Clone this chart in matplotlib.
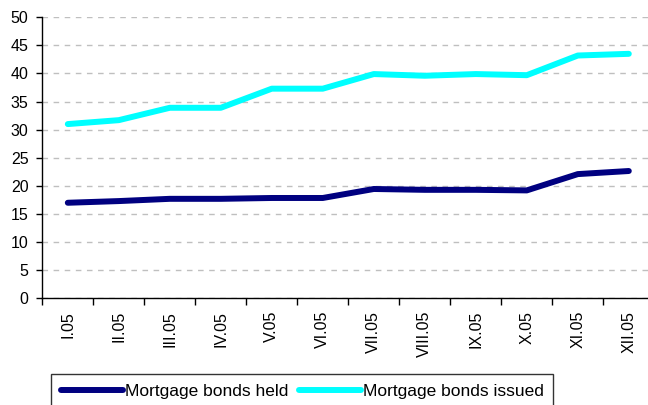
import numpy as np
import matplotlib
matplotlib.use("Agg")
import matplotlib.pyplot as plt

months = ["I.05", "II.05", "III.05", "IV.05", "V.05", "VI.05",
          "VII.05", "VIII.05", "IX.05", "X.05", "XI.05", "XII.05"]
held = [17.0, 17.3, 17.7, 17.7, 17.85, 17.85, 19.45, 19.3, 19.3, 19.2, 22.1, 22.65]
issued = [31.0, 31.7, 33.9, 33.9, 37.3, 37.3, 39.9, 39.6, 39.9, 39.7, 43.2, 43.5]

plt.rcParams['font.family'] = ['Liberation Sans', 'DejaVu Sans']

fig = plt.figure(figsize=(6.48, 4.05), dpi=100)
ax = fig.add_axes([42.3 / 648, 1 - 298.3 / 405, 612 / 648, 281 / 405])

x = np.arange(len(months))
ax.plot(x, held, color='#000080', lw=4.3, solid_capstyle='round', label='Mortgage bonds held')
ax.plot(x, issued, color='#00ffff', lw=4.3, solid_capstyle='round', label='Mortgage bonds issued')

ax.set_xlim(-0.5, len(months) - 0.5)
ax.set_ylim(0, 50)
ax.set_yticks(np.arange(0, 51, 5))
ax.yaxis.grid(True, color='#bfbfbf', lw=1, linestyle=(0, (4, 4)))
ax.set_axisbelow(True)

ax.set_xticks(np.arange(-0.5, len(months)), labels=[''] * (len(months) + 1))
ax.set_xticks(x, labels=months, minor=True, rotation=90)
ax.tick_params(axis='x', which='major', length=5, width=1, color='black')
ax.tick_params(axis='x', which='minor', length=0, pad=9, labelsize=11.5)
ax.tick_params(axis='y', length=4, width=1, labelsize=11.5, pad=6)

for s in ['top', 'right']:
    ax.spines[s].set_visible(False)
for s in ['left', 'bottom']:
    ax.spines[s].set_color('black')
    ax.spines[s].set_linewidth(1)

leg = fig.legend(loc='upper left', bbox_to_anchor=(51 / 648, 1 - 374 / 405), ncol=2,
                 frameon=True, fancybox=False, edgecolor='black', fontsize=12.5,
                 handlelength=3.6, handletextpad=0.1, columnspacing=0.6,
                 borderpad=0.55, borderaxespad=0)
leg.get_frame().set_linewidth(1)

fig.savefig('out.png', dpi=100)
